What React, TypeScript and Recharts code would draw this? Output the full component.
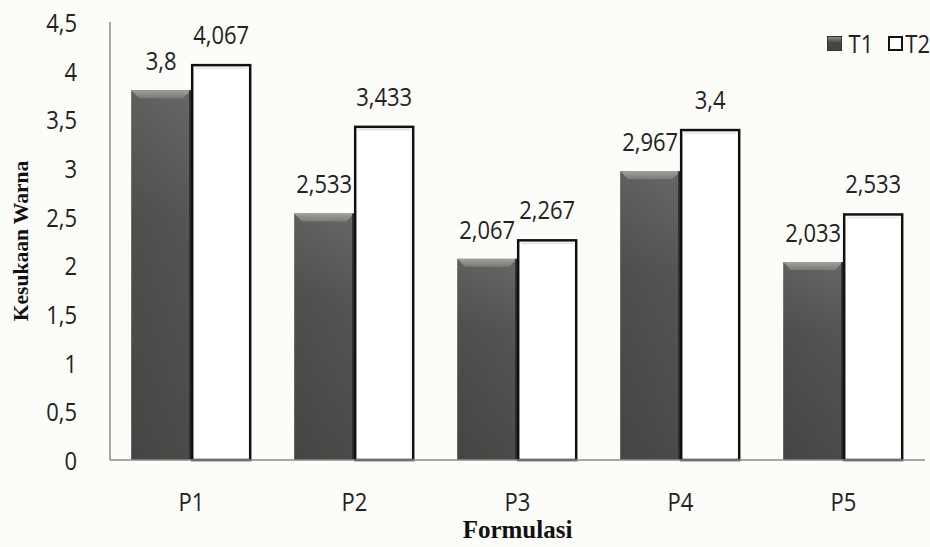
import React from "react";
import { Bar, BarChart, LabelList, XAxis, YAxis } from "recharts";

const categories = ["P1", "P2", "P3", "P4", "P5"];
const t1Values = [3.8, 2.533, 2.067, 2.967, 2.033];
const t2Values = [4.067, 3.433, 2.267, 3.4, 2.533];
const yTicks = [0, 0.5, 1, 1.5, 2, 2.5, 3, 3.5, 4, 4.5];
const seriesNames = ["T1", "T2"];

const data = categories.map((name, i) => ({
  name,
  T1: t1Values[i],
  T2: t2Values[i],
}));

const sans = "'Open Sans', 'Noto Sans', sans-serif";
const serif = "'Liberation Serif', 'DejaVu Serif', serif";
const STRETCH = 1.15;

// comma as decimal separator
const fmt = (v: any) => String(v).replace(".", ",");

// slightly tall text, baseline at (x, y)
function TallText({ x, y, anchor = "middle", size = 22, children }: any) {
  return (
    <text
      transform={`translate(${x},${y}) scale(1,${STRETCH})`}
      textAnchor={anchor}
      fontFamily={sans}
      fontSize={size}
      fill="#222"
    >
      {children}
    </text>
  );
}

// dark bar with a bevelled top edge
function DarkBar(props: any) {
  const { x, y, width, height } = props;
  if (!height || height <= 0) return null;
  const b = 8;
  return (
    <g>
      <rect x={x} y={y} width={width} height={height} fill="url(#darkGrad)" />
      <rect x={x} y={y} width={width} height={height} fill="url(#sideShade)" />
      <polygon
        points={`${x},${y} ${x + width},${y} ${x + width - b},${y + b} ${x + b},${y + b}`}
        fill="url(#bevelGrad)"
      />
      <line x1={x + width - 1} y1={y} x2={x + width - 1} y2={y + height} stroke="#2a2a28" strokeWidth={2} />
    </g>
  );
}

function WhiteBar(props: any) {
  const { x, y, width, height } = props;
  if (!height || height <= 0) return null;
  return (
    <g>
      <rect x={x + 1} y={y + 1} width={width - 2} height={height - 1} fill="#ffffff" stroke="#111" strokeWidth={2.5} />
      <line x1={x + 4} y1={y + 4} x2={x + width - 4} y2={y + 4} stroke="#e4e4e4" strokeWidth={1.5} />
    </g>
  );
}

// legend sits over the top-right corner, outside the chart layout
function LegendBox() {
  const swatches = [
    { background: "linear-gradient(#8a8a8a, #444 45%)", border: "1px solid #333" },
    { background: "#fff", border: "2.5px solid #111" },
  ];
  return (
    <div
      style={{
        position: "absolute",
        top: 28,
        right: 0,
        display: "flex",
        alignItems: "center",
        fontFamily: sans,
        fontSize: 22,
        color: "#222",
      }}
    >
      {seriesNames.map((s, i) => (
        <React.Fragment key={s}>
          <span style={{ width: 15, height: 15, boxSizing: "border-box", ...swatches[i], marginRight: i === 0 ? 7 : 2 }} />
          <span style={{ marginRight: i === 0 ? 15 : 0, transform: `scaleY(${STRETCH})` }}>{s}</span>
        </React.Fragment>
      ))}
    </div>
  );
}

function XTick(props: any) {
  const { x, y, payload } = props;
  return <TallText x={x} y={y + 43}>{payload.value}</TallText>;
}

function YTick(props: any) {
  const { x, y, payload } = props;
  return (
    <TallText x={x - 25} y={y + 10} anchor="end">
      {fmt(payload.value)}
    </TallText>
  );
}

function ValueLabel(props: any) {
  const { x, y, width, value } = props;
  return <TallText x={x + width / 2} y={y - 20}>{fmt(value)}</TallText>;
}

export default function App() {
  return (
    <div style={{ position: "absolute", left: 0, top: 0, width: 930, height: 547, background: "#fcfcf8" }}>
      <BarChart
        width={930}
        height={547}
        data={data}
        margin={{ top: 22, right: 5, left: 0, bottom: 0 }}
        barCategoryGap="13%"
        barGap={0}
      >
        <defs>
          <linearGradient id="darkGrad" x1="0" y1="0" x2="0" y2="1">
            <stop offset="0%" stopColor="#676765" />
            <stop offset="35%" stopColor="#555553" />
            <stop offset="100%" stopColor="#4a4a48" />
          </linearGradient>
          <linearGradient id="sideShade" x1="0" y1="0" x2="1" y2="0">
            <stop offset="0%" stopColor="#000" stopOpacity={0.08} />
            <stop offset="100%" stopColor="#000" stopOpacity={0} />
          </linearGradient>
          <linearGradient id="bevelGrad" x1="0" y1="0" x2="0" y2="1">
            <stop offset="0%" stopColor="#a0a09e" />
            <stop offset="100%" stopColor="#7a7a78" />
          </linearGradient>
        </defs>
        <XAxis
          dataKey="name"
          height={87}
          tickLine={false}
          axisLine={{ stroke: "#8c8c8c", strokeWidth: 1.5 }}
          tick={<XTick />}
          label={{
            value: "Formulasi",
            position: "insideBottom",
            offset: 9,
            style: { fontFamily: serif, fontWeight: "bold", fontSize: 25, fill: "#111" },
          }}
        />
        <YAxis
          width={110}
          domain={[0, 4.5]}
          ticks={yTicks}
          tickLine={false}
          axisLine={{ stroke: "#8c8c8c", strokeWidth: 1.5 }}
          tick={<YTick />}
          label={{
            value: "Kesukaan Warna",
            angle: -90,
            position: "insideLeft",
            offset: 20,
            style: { textAnchor: "middle", fontFamily: serif, fontWeight: "bold", fontSize: 21.5, fill: "#111" },
          }}
        />
        <Bar dataKey="T1" shape={<DarkBar />} isAnimationActive={false}>
          <LabelList dataKey="T1" content={<ValueLabel />} />
        </Bar>
        <Bar dataKey="T2" shape={<WhiteBar />} isAnimationActive={false}>
          <LabelList dataKey="T2" content={<ValueLabel />} />
        </Bar>
      </BarChart>
      <LegendBox />
    </div>
  );
}
